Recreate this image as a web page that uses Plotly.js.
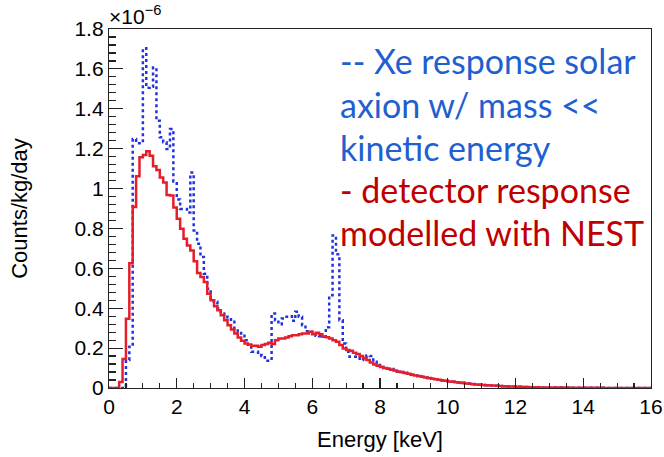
<!DOCTYPE html>
<html>
<head>
<meta charset="utf-8">
<script src="https://cdn.plot.ly/plotly-3.0.1.min.js"></script>
<style>html,body{margin:0;padding:0;background:#fff;}#chart{width:664px;height:457px;}</style>
</head>
<body>
<div id="chart"></div>
<script>
// Histogram: 160 bins, 0.1 keV wide, from 0 to 16 keV. Values in units of 1e-6 counts/kg/day.
var binStart = 0;
var binWidth = 0.1;

// Red: detector response modelled with NEST
var nestResponse = [
  0, 0, 0, 0.03, 0.145, 0.347, 0.625, 0.907, 1.062, 1.157,
  1.168, 1.187, 1.165, 1.112, 1.093, 1.055, 1.03, 0.968, 0.965, 0.905,
  0.848, 0.798, 0.748, 0.715, 0.69, 0.635, 0.577, 0.557, 0.532, 0.473,
  0.44, 0.41, 0.39, 0.365, 0.34, 0.315, 0.293, 0.273, 0.253, 0.237,
  0.223, 0.218, 0.212, 0.212, 0.207, 0.215, 0.22, 0.227, 0.22, 0.24,
  0.248, 0.248, 0.253, 0.26, 0.265, 0.265, 0.27, 0.273, 0.273, 0.282,
  0.27, 0.277, 0.27, 0.257, 0.255, 0.248, 0.24, 0.232, 0.215, 0.198,
  0.19, 0.187, 0.177, 0.17, 0.16, 0.15, 0.14, 0.128, 0.118, 0.112,
  0.105, 0.1, 0.096, 0.092, 0.088, 0.083, 0.079, 0.075, 0.071, 0.067,
  0.063, 0.06, 0.056, 0.053, 0.05, 0.047, 0.044, 0.041, 0.038, 0.036,
  0.033, 0.031, 0.029, 0.027, 0.025, 0.023, 0.021, 0.019, 0.018, 0.016,
  0.015, 0.014, 0.013, 0.012, 0.011, 0.01, 0.009, 0.008, 0.008, 0.007,
  0.006, 0.006, 0.005, 0.005, 0.004, 0.004, 0.004, 0.003, 0.003, 0.003,
  0.003, 0.002, 0.002, 0.002, 0.002, 0.002, 0.001, 0.001, 0.001, 0.001,
  0.001, 0.001, 0.001, 0.001, 0.001, 0.001, 0.0005, 0.0005, 0.0005, 0.0005,
  0.0005, 0.0005, 0.0005, 0.0005, 0.0003, 0.0003, 0.0003, 0.0003, 0.0003, 0.0003
];

// Blue dashed: Xe response, solar axion with mass << kinetic energy
var xeResponse = [
  0, 0, 0, 0, 0, 0.14, 0.207, 1.248, 1.227, 1.227,
  1.703, 1.505, 1.51, 1.607, 1.34, 1.257, 1.232, 1.198, 1.298, 1.035,
  0.945, 0.898, 0.898, 0.88, 1.08, 0.79, 0.723, 0.657, 0.573, 0.498,
  0.448, 0.432, 0.398, 0.373, 0.357, 0.353, 0.332, 0.298, 0.282, 0.273,
  0.24, 0.207, 0.182, 0.182, 0.165, 0.16, 0.137, 0.137, 0.373, 0.34,
  0.32, 0.348, 0.357, 0.36, 0.337, 0.382, 0.357, 0.315, 0.285, 0.282,
  0.273, 0.262, 0.26, 0.258, 0.305, 0.465, 0.765, 0.67, 0.34, 0.223,
  0.182, 0.157, 0.157, 0.157, 0.14, 0.145, 0.163, 0.16, 0.132, 0.115,
  0.105, 0.1, 0.097, 0.095, 0.09, 0.082, 0.08, 0.076, 0.071, 0.066,
  0.063, 0.06, 0.057, 0.053, 0.05, 0.047, 0.044, 0.041, 0.038, 0.036,
  0.034, 0.031, 0.029, 0.027, 0.026, 0.024, 0.022, 0.02, 0.018, 0.016,
  0.015, 0.014, 0.013, 0.012, 0.011, 0.01, 0.009, 0.008, 0.008, 0.007,
  0.006, 0.006, 0.005, 0.005, 0.004, 0.004, 0.004, 0.003, 0.003, 0.003,
  0.003, 0.002, 0.002, 0.002, 0.002, 0.002, 0.001, 0.001, 0.001, 0.001,
  0.001, 0.001, 0.001, 0.001, 0.001, 0.001, 0.0005, 0.0005, 0.0005, 0.0005,
  0.0005, 0.0005, 0.0005, 0.0005, 0.0003, 0.0003, 0.0003, 0.0003, 0.0003, 0.0003
];

var xTickVals = [0, 2, 4, 6, 8, 10, 12, 14, 16];
var yTickVals = [0, 0.2, 0.4, 0.6, 0.8, 1, 1.2, 1.4, 1.6, 1.8];
var yTickText = ["0", "0.2", "0.4", "0.6", "0.8", "1", "1.2", "1.4", "1.6", "1.8"];

var xTitle = "Energy [keV]";
var yTitle = "Counts/kg/day";
var yExponent = "×10<sup>−6</sup>";
var noteLines = ["-- Xe response solar", "axion w/ mass <<", "kinetic energy", "- detector response", "modelled with NEST"];
var noteColors = ["#1f5fcf", "#1f5fcf", "#1f5fcf", "#c00000", "#c00000"];

function stepXY(vals) {
  var xs = [], ys = [];
  for (var i = 0; i < vals.length; i++) {
    xs.push(binStart + i * binWidth);
    ys.push(vals[i]);
  }
  xs.push(binStart + vals.length * binWidth);
  ys.push(vals[vals.length - 1]);
  return {x: xs, y: ys};
}

var b = stepXY(xeResponse);
var r = stepXY(nestResponse);

var traces = [
  {x: b.x, y: b.y, type: 'scatter', mode: 'lines', line: {shape: 'hv', color: '#2233dd', width: 2.5, dash: '3px,3px'}, hoverinfo: 'skip'},
  {x: r.x, y: r.y, type: 'scatter', mode: 'lines', line: {shape: 'hv', color: '#e41e2b', width: 2.5}, hoverinfo: 'skip'}
];

var fontFam = 'Liberation Sans, Arial, sans-serif';
var tickFont = {family: fontFam, size: 21, color: '#000'};

var annotations = [
  {xref: 'paper', yref: 'paper', x: -0.004, y: 0.997, xanchor: 'left', yanchor: 'bottom', text: yExponent, showarrow: false,
   font: {family: fontFam, size: 21, color: '#000'}}
];
var noteY = [0.9136, 0.791, 0.671, 0.554, 0.4345];
for (var k = 0; k < noteLines.length; k++) {
  annotations.push({xref: 'paper', yref: 'paper', x: 0.423, y: noteY[k], xanchor: 'left', yanchor: 'middle',
    text: noteLines[k], showarrow: false, font: {family: 'Lato, sans-serif', size: 34, color: noteColors[k]}});
}

var layout = {
  width: 664, height: 457,
  margin: {l: 109, r: 13, t: 29, b: 69},
  paper_bgcolor: '#fff', plot_bgcolor: '#fff',
  showlegend: false,
  xaxis: {
    range: [0, 16], tickvals: xTickVals, showgrid: false, zeroline: false,
    showline: true, linecolor: '#222', linewidth: 1.2, mirror: true,
    ticks: 'inside', ticklen: 10, tickwidth: 1.2, tickcolor: '#222',
    minor: {ticks: 'inside', ticklen: 5, dtick: 0.5, tick0: 0, tickcolor: '#222', tickwidth: 1.2},
    tickfont: tickFont, ticklabelstandoff: 0,
    title: {text: xTitle, font: {family: fontFam, size: 22, color: '#000'}, standoff: 14}
  },
  yaxis: {
    range: [0, 1.8], tickvals: yTickVals, ticktext: yTickText, showgrid: false, zeroline: false,
    showline: true, linecolor: '#222', linewidth: 1.2, mirror: true,
    ticks: 'inside', ticklen: 14, tickwidth: 1.2, tickcolor: '#222',
    minor: {ticks: 'inside', ticklen: 7, dtick: 0.04, tick0: 0, tickcolor: '#222', tickwidth: 1.2},
    tickfont: tickFont, ticklabelstandoff: 0,
    title: {text: yTitle, font: {family: fontFam, size: 22, color: '#000'}, standoff: 40}
  },
  annotations: annotations
};

Plotly.newPlot('chart', traces, layout, {staticPlot: true, displayModeBar: false});
</script>
</body>
</html>
